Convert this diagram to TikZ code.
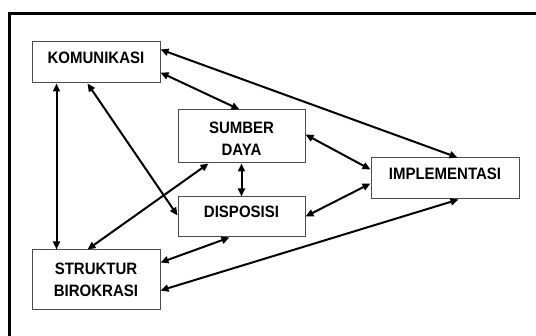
\documentclass[tikz,border=0pt]{standalone}
\usepackage{fontspec}
\setmainfont{Liberation Sans}
\usetikzlibrary{arrows.meta,calc}
\begin{document}
\begin{tikzpicture}[x=1pt,y=-1pt,
  box/.style={draw=black!70,line width=1pt,inner sep=0pt,minimum width=#1},
  lbl/.style={font=\fontsize{15}{20}\selectfont\bfseries,align=center,inner sep=0pt,yscale=1.1,transform shape},
  link/.style={line width=2pt,{Triangle[length=8pt,width=7pt]}-{Triangle[length=8pt,width=7pt]}}]
\useasboundingbox (0,0) rectangle (536,336);
\clip (0,0) rectangle (536,336);
\draw[line width=3.2pt] (9.6,400) -- (9.6,13.6) -- (600,13.6);
% boxes
\node[box=128pt,minimum height=41pt] (kom) at (96,62.5) {};
\node[box=127pt,minimum height=53pt] (sd) at (241.5,136.5) {};
\node[box=127pt,minimum height=40pt] (disp) at (241.5,217) {};
\node[box=148pt,minimum height=41pt] (impl) at (445,178.5) {};
\node[box=128pt,minimum height=60pt] (sb) at (96,280) {};
% labels
\node[lbl] (tkom) at ($(kom.center)+(0,-4.7)$) {KOMUNIKASI};
\node[lbl] (tsd) at ($(sd.center)+(0,1.8)$) {SUMBER\\DAYA};
\node[lbl] (tdisp) at ($(disp.center)+(0,-5.3)$) {DISPOSISI};
\node[lbl] (timpl) at ($(impl.center)+(0,-5)$) {IMPLEMENTASI};
\node[lbl] (tsb) at ($(sb.center)+(0,0)$) {STRUKTUR\\BIROKRASI};
% connectors
\draw[link] ($(kom.north east)+(0,8)$) -- ($(impl.north west)+(87,0)$);
\draw[link] ($(kom.north east)+(0,31)$) -- ($(sd.north west)+(62,0)$);
\draw[link] ($(kom.south west)+(25,0)$) -- ($(sb.north west)+(25,0)$);
\draw[link] ($(kom.south west)+(56,0)$) -- ($(disp.north west)+(0,19)$);
\draw[link] ($(sd.south west)+(31,0)$) -- ($(sb.north west)+(56,0)$);
\draw[link] ($(sd.south west)+(64,0)$) -- ($(disp.north west)+(64,0)$);
\draw[link] ($(sd.north east)+(0,25)$) -- ($(impl.north west)+(0,12)$);
\draw[link] ($(disp.north east)+(0,20)$) -- ($(impl.north west)+(0,26)$);
\draw[link] ($(disp.south west)+(52,0)$) -- ($(sb.north east)+(0,13)$);
\draw[link] ($(sb.north east)+(0,41)$) -- ($(impl.south west)+(88,0)$);
\end{tikzpicture}
\end{document}
